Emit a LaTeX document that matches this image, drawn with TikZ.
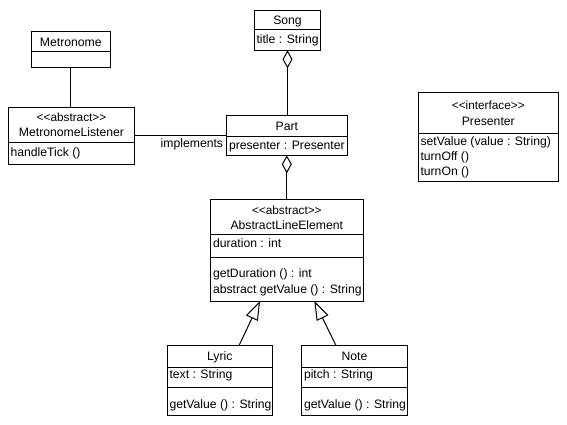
\documentclass[tikz,border=0pt]{standalone}
\usepackage{fontspec}
\setmainfont{Liberation Sans}
\usetikzlibrary{arrows.meta,calc}
\tikzset{
  cls/.style={draw, line width=1pt, anchor=north west, inner sep=0pt, outer sep=0pt},
  txt/.style={anchor=base, inner sep=0pt, font=\fontsize{12.2}{14}\selectfont},
  ltxt/.style={txt, anchor=base west},
  stereo/.style={txt, font=\fontsize{11.8}{13}\selectfont},
  conn/.style={line width=1pt},
  agg/.style={conn, {Diamond[open,length=18pt,width=10pt]}-},
  inh/.style={conn, -{Triangle[open,length=19pt,width=13pt]}},
}
\newcommand{\lt}{<\kern0pt<}
\newcommand{\gt}{>\kern0pt>}
\begin{document}
\begin{tikzpicture}[x=1pt,y=-1pt]
\useasboundingbox[fill=white] (0,0) rectangle (567,424);

% Song
\node[cls, minimum width=66.4pt, minimum height=40pt] (song) at (254.3,10.3) {};
\draw[conn] (song.west |- 0,29.3) -- (song.east |- 0,29.3);
\node[txt] (songN) at (song.north |- 0,24.2) {Song};
\node[ltxt] (songA) at (256.3,43.7) {title : String};

% Metronome
\node[cls, minimum width=79pt, minimum height=35.7pt] (metro) at (31.3,31.3) {};
\draw[conn] (metro.west |- 0,51.7) -- (metro.east |- 0,51.7);
\node[txt] (metroN) at (metro.north |- 0,46.7) {Metronome};

% MetronomeListener
\node[cls, minimum width=126.4pt, minimum height=57pt] (ml) at (8.3,107.3) {};
\draw[conn] (ml.west |- 0,142.3) -- (ml.east |- 0,142.3);
\node[stereo] (mlS) at (ml.north |- 0,121.3) {\lt abstract\gt};
\node[txt] (mlN) at (ml.north |- 0,136.9) {MetronomeListener};
\node[ltxt] (mlO) at (10.3,156.9) {handleTick ()};

% Part
\node[cls, minimum width=121pt, minimum height=40pt] (part) at (226.3,115.3) {};
\draw[conn] (part.west |- 0,136) -- (part.east |- 0,136);
\node[txt] (partN) at (part.north |- 0,130.9) {Part};
\node[ltxt] (partA) at (228.8,149.2) {presenter : Presenter};

% AbstractLineElement
\node[cls, minimum width=153pt, minimum height=101.7pt] (ale) at (210.3,199.3) {};
\draw[conn] (ale.west |- 0,234.3) -- (ale.east |- 0,234.3);
\draw[conn] (ale.west |- 0,257) -- (ale.east |- 0,257);
\node[stereo] (aleS) at (ale.north |- 0,214.7) {\lt abstract\gt};
\node[txt] (aleN) at (ale.north |- 0,229.9) {AbstractLineElement};
\node[ltxt] (aleA) at (212.8,247.5) {duration : int};
\node[ltxt] (aleO1) at (212.8,277.5) {getDuration () : int};
\node[ltxt] (aleO2) at (212.8,293.2) {abstract getValue () : String};

% Lyric
\node[cls, minimum width=105pt, minimum height=70pt] (lyric) at (167.3,345) {};
\draw[conn] (lyric.west |- 0,367.3) -- (lyric.east |- 0,367.3);
\draw[conn] (lyric.west |- 0,387.3) -- (lyric.east |- 0,387.3);
\node[txt] (lyricN) at (lyric.north |- 0,360.9) {Lyric};
\node[ltxt] (lyricA) at (169.3,378.5) {text : String};
\node[ltxt] (lyricO) at (169.3,408.5) {getValue () : String};

% Note
\node[cls, minimum width=105.6pt, minimum height=70pt] (note) at (301.7,345) {};
\draw[conn] (note.west |- 0,367.3) -- (note.east |- 0,367.3);
\draw[conn] (note.west |- 0,387.3) -- (note.east |- 0,387.3);
\node[txt] (noteN) at (note.north |- 0,360.9) {Note};
\node[ltxt] (noteA) at (303.8,378.5) {pitch : String};
\node[ltxt] (noteO) at (303.8,408.5) {getValue () : String};

% Presenter
\node[cls, minimum width=140pt, minimum height=89pt] (pres) at (418.3,92.7) {};
\draw[conn] (pres.west |- 0,133.3) -- (pres.east |- 0,133.3);
\node[stereo] (presS) at (pres.north |- 0,109.4) {\lt interface\gt};
\node[txt] (presN) at (pres.north |- 0,125.9) {Presenter};
\node[ltxt] (presO1) at (420.3,145.2) {setValue (value : String)};
\node[ltxt] (presO2) at (420.3,160.5) {turnOff ()};
\node[ltxt] (presO3) at (420.3,175.7) {turnOn ()};

% connectors
\draw[conn] (metro.south) -- (metro.south |- ml.north);
\draw[conn] (ml.east) -- (ml.east -| part.west);
\node[txt, anchor=base east] (impl) at (223.3,147.5) {implements};
\draw[agg] (song.south) -- (song.south |- part.north);
\draw[agg] (part.south) -- (part.south |- ale.north);
\draw[inh] ($(lyric.north)+(19.5,0)$) -- ($(ale.south)+(-26.8,0)$);
\draw[inh] ($(note.north)+(-18.8,0)$) -- ($(ale.south)+(27.5,0)$);
\end{tikzpicture}
\end{document}
